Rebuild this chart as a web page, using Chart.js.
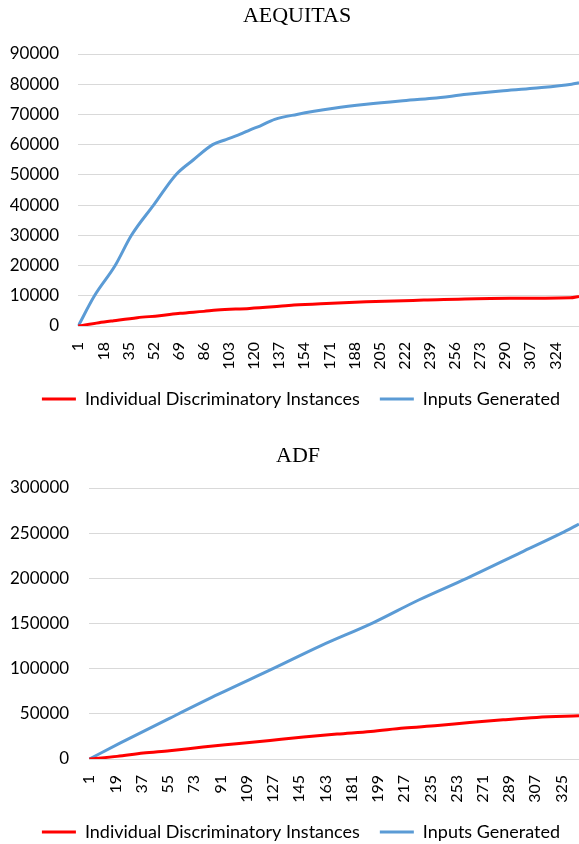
<!DOCTYPE html>
<html>
<head>
<meta charset="utf-8">
<script src="https://cdn.jsdelivr.net/npm/chart.js@4.4.1/dist/chart.umd.min.js"></script>
<style>
  html, body { margin: 0; padding: 0; background: #fff; overflow: hidden; }
  canvas { display: block; }
</style>
</head>
<body>
<canvas id="aequitasChart" width="579" height="420"></canvas>
<canvas id="adfChart" width="579" height="431"></canvas>
<script>
const seriesNames = ["Individual Discriminatory Instances", "Inputs Generated"];
const seriesColors = ["#ff0000", "#5b9bd5"];

// AEQUITAS (x = input number)
const aeqDiscX = [1, 15, 25, 41, 56, 70, 86, 95, 117, 133, 147, 169, 196, 235, 280, 334, 340];
const aeqDiscY = [0, 1100, 1760, 2750, 3400, 4180, 4840, 5270, 5820, 6370, 6920, 7470, 8020, 8570, 9120, 9340, 9800];
const aeqInputsX = [1, 12, 26, 37, 52, 67, 79, 92, 101, 112, 117, 124, 134, 149, 174, 196, 219, 241, 264, 287, 309, 335, 340];
const aeqInputsY = [0, 10000, 20000, 30000, 40000, 50000, 55000, 60000, 61700, 63700, 64850, 66170, 68380, 70000, 72020, 73350, 74450, 75330, 76650, 77760, 78640, 80000, 80500];
const aeqXTicks = [1, 18, 35, 52, 69, 86, 103, 120, 137, 154, 171, 188, 205, 222, 239, 256, 273, 290, 307, 324];
const aeqYTicks = [0, 10000, 20000, 30000, 40000, 50000, 60000, 70000, 80000, 90000];
const aeqLastX = 340;

// ADF
const adfDiscX = [1, 20, 38, 56, 79, 102, 125, 148, 171, 194, 217, 240, 262, 285, 308, 337];
const adfDiscY = [0, 2900, 6600, 9200, 13200, 16900, 20600, 24300, 27600, 30500, 34200, 37100, 40400, 43400, 46000, 47800];
const adfInputsX = [1, 22, 56, 90, 127, 160, 196, 227, 260, 297, 325, 337];
const adfInputsY = [0, 17500, 45000, 72000, 100000, 125500, 151000, 176000, 200000, 228500, 250000, 260000];
const adfXTicks = [1, 19, 37, 55, 73, 91, 109, 127, 145, 163, 181, 199, 217, 235, 253, 271, 289, 307, 325];
const adfYTicks = [0, 50000, 100000, 150000, 200000, 250000, 300000];
const adfLastX = 337;

// title and legend are centred on the original (wider) chart, not on the canvas
const boxCenters = {
  id: "boxCenters",
  afterLayout(chart, _args, opts) {
    if (chart.titleBlock) chart.titleBlock.right = 2 * opts.title - chart.titleBlock.left;
    if (chart.legend) chart.legend.right = 2 * opts.legend - chart.legend.left;
  }
};

const toPts = (xs, ys) => xs.map((x, i) => ({ x, y: ys[i] }));
const tickFont = size => ({ family: "Lato", size });

function makeChart(id, c) {
  return new Chart(document.getElementById(id), {
    type: "line",
    data: {
      datasets: [
        { label: seriesNames[0], data: toPts(c.discX, c.discY), borderColor: seriesColors[0], backgroundColor: seriesColors[0] },
        { label: seriesNames[1], data: toPts(c.inX, c.inY), borderColor: seriesColors[1], backgroundColor: seriesColors[1] }
      ]
    },
    plugins: [boxCenters],
    options: {
      responsive: false,
      animation: false,
      events: [],
      layout: { padding: { left: 0, right: 0, top: 0, bottom: c.padBottom } },
      elements: { point: { radius: 0 }, line: { borderWidth: 3, cubicInterpolationMode: "monotone" } },
      scales: {
        x: {
          type: "linear",
          min: 0.5,
          max: c.lastX,
          grid: { display: false, drawTicks: false },
          border: { display: false },
          afterBuildTicks: ax => { ax.ticks = c.xTicks.map(v => ({ value: v })); },
          afterFit: ax => { ax.height = 44; ax.paddingLeft = 0; ax.paddingRight = 0; },
          ticks: {
            autoSkip: false, minRotation: 90, maxRotation: 90, padding: 16,
            color: "#000", font: tickFont(16), callback: v => String(v)
          }
        },
        y: {
          min: c.yTicks[0],
          max: c.yTicks[c.yTicks.length - 1],
          afterBuildTicks: ax => { ax.ticks = c.yTicks.map(v => ({ value: v })); },
          afterFit: ax => { ax.width = c.plotLeft; },
          grid: { color: "#d9d9d9", lineWidth: 1, drawTicks: false },
          border: { display: false },
          ticks: { padding: c.yPad, color: "#000", font: tickFont(17), callback: v => String(v) }
        }
      },
      plugins: {
        title: {
          display: true, text: c.title, color: "#000",
          font: { family: "Liberation Serif", size: 22, weight: "normal" },
          padding: c.titlePad
        },
        legend: {
          position: "bottom",
          labels: {
            boxWidth: 34, boxHeight: 3, padding: 20, color: "#000", font: tickFont(18),
            generateLabels: ch => Chart.defaults.plugins.legend.labels.generateLabels(ch).map(l => ({ ...l, lineWidth: 0 }))
          }
        },
        tooltip: { enabled: false },
        boxCenters: { title: c.titleCenter, legend: c.legendCenter }
      }
    }
  });
}

makeChart("aequitasChart", {
  title: "AEQUITAS",
  discX: aeqDiscX, discY: aeqDiscY, inX: aeqInputsX, inY: aeqInputsY,
  xTicks: aeqXTicks, yTicks: aeqYTicks, lastX: aeqLastX,
  plotLeft: 77.5, padBottom: 2, yPad: 18.5,
  titlePad: { top: 3, bottom: 24.6 },
  titleCenter: 297, legendCenter: 301
});

makeChart("adfChart", {
  title: "ADF",
  discX: adfDiscX, discY: adfDiscY, inX: adfInputsX, inY: adfInputsY,
  xTicks: adfXTicks, yTicks: adfYTicks, lastX: adfLastX,
  plotLeft: 88.6, padBottom: 0, yPad: 19.5,
  titlePad: { top: 22.8, bottom: 18.8 },
  titleCenter: 298, legendCenter: 301
});
</script>
</body>
</html>
